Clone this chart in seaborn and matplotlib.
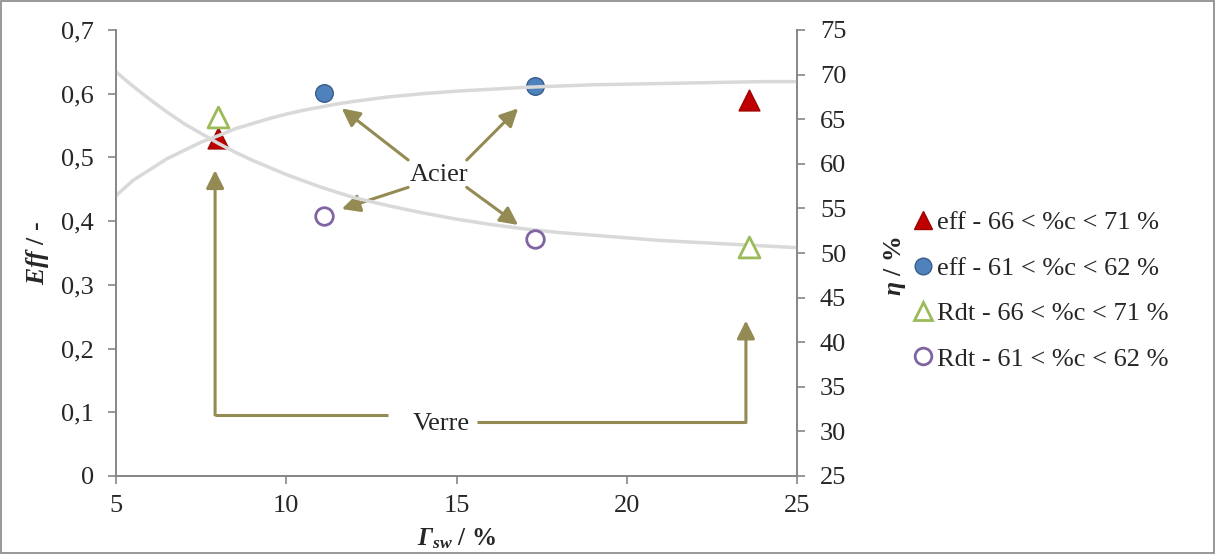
import matplotlib
matplotlib.use("Agg")
import matplotlib.pyplot as plt
from matplotlib.lines import Line2D
from matplotlib.patches import Rectangle
import seaborn as sns

# points mesurés
gamma_eff_haut = [8.0, 23.6]
eff_haut = [0.530, 0.590]
gamma_eff_bas = [11.1, 17.3]
eff_bas = [0.601, 0.612]
gamma_rdt_haut = [8.0, 23.6]
rdt_haut = [65.3, 50.7]
gamma_rdt_bas = [11.1, 17.3]
rdt_bas = [54.1, 51.6]

# courbes de tendance
gamma_tend = [5, 5.5, 6, 6.5, 7, 7.5, 8, 8.5, 9, 9.5, 10, 10.5, 11, 11.5, 12, 13, 14, 15,
              16, 17, 18, 19, 20, 21, 22, 23, 24, 25]
eff_tend = [0.440, 0.464, 0.481, 0.498, 0.511, 0.524, 0.534, 0.545, 0.553, 0.561, 0.568,
            0.574, 0.579, 0.584, 0.588, 0.595, 0.600, 0.604, 0.607, 0.610, 0.612, 0.614,
            0.615, 0.616, 0.617, 0.618, 0.619, 0.619]
rdt_tend = [70.3, 68.7, 67.2, 65.8, 64.5, 63.4, 62.3, 61.3, 60.4, 59.6, 58.8, 58.1, 57.4,
            56.8, 56.2, 55.3, 54.5, 53.8, 53.2, 52.7, 52.3, 52.0, 51.7, 51.4, 51.2, 51.0,
            50.8, 50.6]

yticks_gauche = [0, 0.1, 0.2, 0.3, 0.4, 0.5, 0.6, 0.7]
yticks_droite = [25, 30, 35, 40, 45, 50, 55, 60, 65, 70, 75]
xticks = [5, 10, 15, 20, 25]

legende = ["eff - 66 < %c < 71 %", "eff - 61 < %c < 62 %",
           "Rdt - 66 < %c < 71 %", "Rdt - 61 < %c < 62 %"]

sns.set_theme(style="white")
plt.rcParams["font.family"] = ["Liberation Serif", "DejaVu Serif"]
plt.rcParams["mathtext.fontset"] = "custom"
plt.rcParams["mathtext.rm"] = "Liberation Serif"
plt.rcParams["mathtext.it"] = "Liberation Serif:italic"
plt.rcParams["mathtext.bf"] = "Liberation Serif:bold"
plt.rcParams["mathtext.bfit"] = "Liberation Serif:bold:italic"

gris = "#868686"
olive = "#948A54"
rouge = "#C00000"
bleu = "#4F81BD"
vert = "#9BBB59"
violet = "#8064A2"
tend = "#D9D9D9"
taille = 19

fig = plt.figure(figsize=(12.15, 5.54), dpi=100)
ax = fig.add_axes([116 / 1215, 1 - 476 / 554, (797 - 116) / 1215, (476 - 30) / 554])
ax2 = ax.twinx()

# eff (axe gauche)
sns.scatterplot(x=gamma_eff_haut, y=eff_haut, ax=ax, marker="^", s=225, color=rouge,
                edgecolor="#A00000", linewidth=1, zorder=2)
sns.scatterplot(x=gamma_eff_bas, y=eff_bas, ax=ax, marker="o", s=160, color=bleu,
                edgecolor="#385D8A", linewidth=1, zorder=2)
sns.lineplot(x=gamma_tend, y=eff_tend, ax=ax, color=tend, lw=2.5, zorder=3)

# rendement (axe droit)
sns.lineplot(x=gamma_tend, y=rdt_tend, ax=ax2, color=tend, lw=2.5, zorder=1)
sns.scatterplot(x=gamma_rdt_haut, y=rdt_haut, ax=ax2, marker="^", s=225, facecolor="white",
                edgecolor=vert, linewidth=2, zorder=2)
sns.scatterplot(x=gamma_rdt_bas, y=rdt_bas, ax=ax2, marker="o", s=160, facecolor="white",
                edgecolor=violet, linewidth=2, zorder=2)

ax.set_xlim(5, 25)
ax.set_ylim(0, 0.7)
ax2.set_ylim(25, 75)
ax.set_xticks(xticks)
ax.set_yticks(yticks_gauche)
ax.set_yticklabels([("%g" % v).replace(".", ",") for v in yticks_gauche])
ax2.set_yticks(yticks_droite)

for a in (ax, ax2):
    for s in a.spines.values():
        s.set_color(gris)
        s.set_linewidth(1.2)
    a.spines["top"].set_visible(False)
ax.tick_params(axis="x", direction="out", length=6, width=1.2, color=gris, labelsize=taille,
               pad=7.5, bottom=True)
ax.tick_params(axis="y", direction="out", length=5.5, width=1.2, color=gris, labelsize=taille,
               pad=10.5, left=True)
ax2.tick_params(axis="y", direction="out", length=6, width=1.2, color=gris, labelsize=taille,
                pad=10.5, right=True)

ax.set_xlabel(r"$\mathbfit{\Gamma}_{\mathbfit{sw}}$ / %", fontsize=18, fontweight="bold")
ax.set_ylabel(r"$\mathbfit{Eff}$ / -", fontsize=18.5, fontweight="bold")
ax2.set_ylabel(r"$\mathbfit{\eta}$ / %", fontsize=18.5, fontweight="bold")
ax.xaxis.set_label_coords(0.5, -0.112)
ax.yaxis.set_label_coords(-0.096, 0.5)
ax2.yaxis.set_label_coords(1.125, 0.47)

# annotations
fleche = dict(arrowstyle="-|>,head_length=0.6,head_width=0.3", color=olive, lw=2.2,
              shrinkA=0, shrinkB=0, mutation_scale=18)
acier = [((13.58, 0.496), (11.63, 0.577)), ((15.30, 0.496), (16.81, 0.577)),
         ((13.58, 0.453), (11.63, 0.419)), ((15.30, 0.453), (16.81, 0.394))]
for depart, pointe in acier:
    ax.annotate("", xy=pointe, xytext=depart, arrowprops=fleche, zorder=4)
ax.text(14.49, 0.473, "Acier", fontsize=taille, ha="center", va="center", zorder=5)

ax.plot([12.99, 7.91], [0.0958, 0.0958], color=olive, lw=2.2, solid_capstyle="butt")
ax.annotate("", xy=(7.91, 0.480), xytext=(7.91, 0.0958), arrowprops=fleche)
ax.plot([15.60, 23.50], [0.084, 0.084], color=olive, lw=2.2, solid_capstyle="butt")
ax.annotate("", xy=(23.50, 0.244), xytext=(23.50, 0.084), arrowprops=fleche)
ax.text(14.54, 0.082, "Verre", fontsize=taille, ha="center", va="center")

poignees = [
    Line2D([], [], ls="", marker="^", ms=13, color=rouge, mec="#A00000"),
    Line2D([], [], ls="", marker="o", ms=12, color=bleu, mec="#385D8A"),
    Line2D([], [], ls="", marker="^", ms=13, mfc="white", mec=vert, mew=2),
    Line2D([], [], ls="", marker="o", ms=12, mfc="white", mec=violet, mew=2),
]
fig.legend(poignees, legende, loc="upper left", bbox_to_anchor=(912 / 1215, 1 - 211 / 554),
           frameon=False, fontsize=taille, labelspacing=0.83, handlelength=0.8,
           handletextpad=0.15, borderpad=0, borderaxespad=0)

fig.patches.append(Rectangle((0.001, 0.002), 0.998, 0.996, transform=fig.transFigure,
                             fill=False, edgecolor=gris, lw=1.2))

fig.savefig("out.png", dpi=100)
